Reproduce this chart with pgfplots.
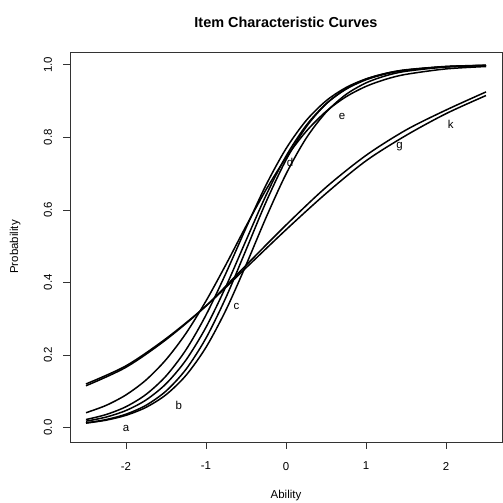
\documentclass[border=0pt]{standalone}
\usepackage{pgfplots}
\pgfplotsset{compat=1.18}
\usepackage{fontspec}
\setmainfont{Liberation Sans}
\begin{document}
\begin{tikzpicture}
\begin{axis}[
  name=main,
  at={(0,0)}, anchor=south west,
  width=432bp, height=390bp, scale only axis,
  xmin=-2.7, xmax=2.7, ymin=-0.04, ymax=1.035,
  xtick={-2,-1,0,1,2}, ytick={0,0.2,0.4,0.6,0.8,1.0},
  tick pos=left, tick align=outside, major tick length=6.5bp,
  font=\fontsize{11.5}{13}\selectfont,
  /pgf/number format/assume math mode=true,
  yticklabel style={rotate=90, anchor=south, /pgf/number format/fixed, /pgf/number format/fixed zerofill, /pgf/number format/precision=1},
  yticklabel shift=8bp,
  xticklabel shift=10bp,
  xlabel={Ability}, ylabel={Probability},
  xlabel style={at={(axis description cs:0.5,-0.138)}, anchor=center},
  ylabel style={at={(axis description cs:-0.127,0.5)}, anchor=center},
  title={\bfseries Item Characteristic Curves},
  title style={font=\fontsize{14.5}{16}\selectfont\bfseries, at={(0.5,1)}, anchor=center, yshift=24bp},
  axis line style={black!80, line width=0.8bp},
  every tick/.style={black!80, line width=0.6bp},
  cycle list={{black, solid}},
  every axis plot/.append style={smooth, no markers, line width=1.5bp},
]
% g
\addplot coordinates {(-2.5,0.120) (-2,0.170) (-1.5,0.245) (-1,0.335) (-0.5,0.440) (0,0.545) (0.5,0.645) (1,0.735) (1.5,0.805) (2,0.865) (2.5,0.915)};
% k
\addplot coordinates {(-2.5,0.115) (-2,0.166) (-1.5,0.242) (-1,0.335) (-0.5,0.447) (0,0.558) (0.5,0.662) (1,0.750) (1.5,0.820) (2,0.875) (2.5,0.925)};
% S1
\addplot coordinates {(-2.5,0.0407) (-2.25,0.0608) (-2,0.0899) (-1.75,0.1309) (-1.5,0.1870) (-1.25,0.2596) (-1,0.3487) (-0.75,0.4494) (-0.5,0.5548) (-0.25,0.6552) (0,0.7437) (0.25,0.8156) (0.5,0.8710) (0.75,0.9115) (1,0.9402) (1.25,0.9600) (1.5,0.9734) (2,0.9884) (2.5,0.9950)};
% S2
\addplot coordinates {(-2.5,0.0219) (-2.25,0.0356) (-2,0.0573) (-1.75,0.0911) (-1.5,0.1419) (-1.25,0.2142) (-1,0.3100) (-0.75,0.4256) (-0.5,0.5498) (-0.25,0.6682) (0,0.7685) (0.25,0.8455) (0.5,0.9002) (0.75,0.9370) (1,0.9608) (1.25,0.9759) (1.5,0.9852) (2,0.9945) (2.5,0.9980)};
% S3
\addplot coordinates {(-2.5,0.0173) (-2.25,0.0286) (-2,0.0468) (-1.75,0.0758) (-1.5,0.1204) (-1.25,0.1860) (-1,0.2762) (-0.75,0.3891) (-0.5,0.5154) (-0.25,0.6397) (0,0.7477) (0.25,0.8319) (0.5,0.8920) (0.75,0.9324) (1,0.9584) (1.25,0.9747) (1.5,0.9847) (2,0.9944) (2.5,0.9980)};
% S4
\addplot coordinates {(-2.5,0.0128) (-2.25,0.0218) (-2,0.0367) (-1.75,0.0612) (-1.5,0.1004) (-1.25,0.1604) (-1,0.2464) (-0.75,0.3588) (-0.5,0.4893) (-0.25,0.6212) (0,0.7373) (0.25,0.8277) (0.5,0.8916) (0.75,0.9337) (1,0.9602) (1.25,0.9763) (1.5,0.9860) (2,0.9952) (2.5,0.9984)};
% S5
\addplot coordinates {(-2.5,0.0120) (-2.25,0.0201) (-2,0.0336) (-1.75,0.0555) (-1.5,0.0903) (-1.25,0.1437) (-1,0.2210) (-0.75,0.3241) (-0.5,0.4477) (-0.25,0.5782) (0,0.6985) (0.25,0.7966) (0.5,0.8687) (0.75,0.9179) (1,0.9498) (1.25,0.9697) (1.5,0.9818) (2,0.9936) (2.5,0.9977)};
\begin{scope}[every node/.style={font=\fontsize{11.5}{13}\selectfont}]
\node at (axis cs:-2.0,-0.003) {a};
\node at (axis cs:-1.34,0.061) {b};
\node at (axis cs:-0.62,0.334) {c};
\node at (axis cs:0.05,0.731) {d};
\node at (axis cs:0.70,0.858) {e};
\node at (axis cs:1.42,0.775) {g};
\node at (axis cs:2.06,0.836) {k};
\end{scope}
\end{axis}
\pgfresetboundingbox
\path[use as bounding box] (main.south west) ++(-70bp,-61bp) rectangle ++(503bp,503bp);
\end{tikzpicture}
\end{document}
